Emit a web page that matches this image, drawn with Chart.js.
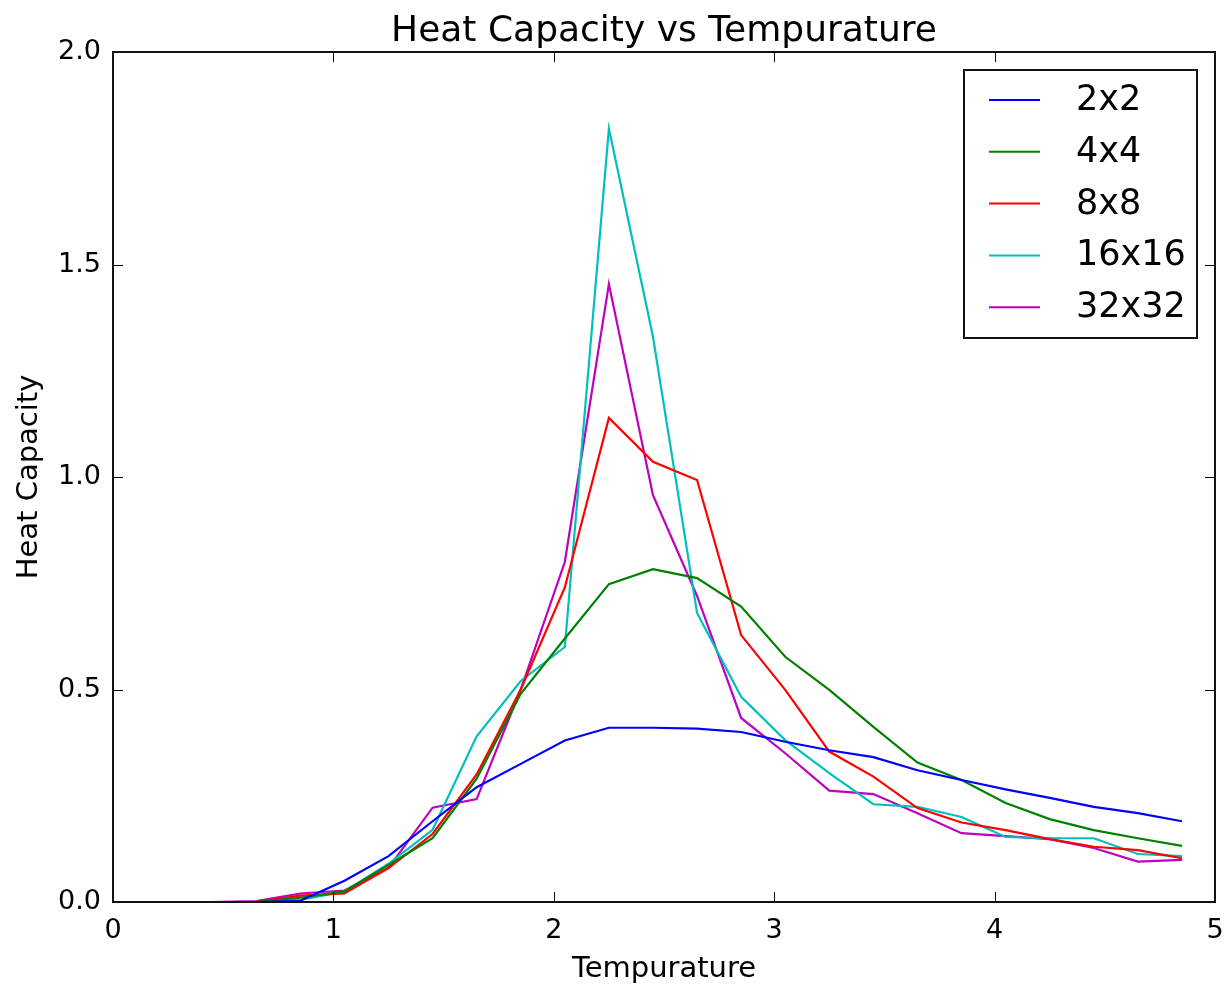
<!DOCTYPE html>
<html>
<head>
<meta charset="utf-8">
<script src="https://cdn.jsdelivr.net/npm/chart.js@4.4.0/dist/chart.umd.min.js"></script>
<style>
  body { margin: 0; background: #fff; }
  #wrap { width: 1226px; height: 987px; }
</style>
</head>
<body>
<div id="wrap"><canvas id="chart" width="1226" height="987"></canvas></div>
<script>
// temperatures sampled in the simulation
const temps = [0.25, 0.45, 0.65, 0.85, 1.05, 1.25, 1.45, 1.65, 1.85, 2.05, 2.25, 2.45,
               2.65, 2.85, 3.05, 3.25, 3.45, 3.65, 3.85, 4.05, 4.25, 4.45, 4.65, 4.85];

// heat capacity per lattice size
const c2x2   = [0, 0, 0, 0.003, 0.05, 0.108, 0.19, 0.27, 0.325, 0.38, 0.41, 0.41,
                0.408, 0.40, 0.377, 0.357, 0.341, 0.31, 0.287, 0.265, 0.245, 0.224, 0.209, 0.19];
const c4x4   = [0, 0, 0, 0.01, 0.025, 0.087, 0.15, 0.29, 0.49, 0.62, 0.748, 0.783,
                0.762, 0.695, 0.577, 0.499, 0.412, 0.328, 0.287, 0.233, 0.195, 0.169, 0.15, 0.132];
const c8x8   = [0, 0, 0, 0.015, 0.02, 0.08, 0.16, 0.30, 0.50, 0.74, 1.139, 1.036,
                0.993, 0.628, 0.499, 0.354, 0.295, 0.221, 0.187, 0.169, 0.148, 0.13, 0.122, 0.103];
const c16x16 = [0, 0, 0, 0.005, 0.025, 0.09, 0.17, 0.39, 0.52, 0.60, 1.82, 1.33,
                0.68, 0.483, 0.381, 0.303, 0.23, 0.224, 0.2, 0.153, 0.15, 0.15, 0.113, 0.108];
const c32x32 = [0, 0, 0.002, 0.02, 0.027, 0.08, 0.222, 0.242, 0.50, 0.80, 1.454, 0.957,
                0.72, 0.433, 0.35, 0.262, 0.254, 0.209, 0.162, 0.155, 0.148, 0.127, 0.095, 0.099];

const labels = ["2x2", "4x4", "8x8", "16x16", "32x32"];
const colors = ["#0000ff", "#008000", "#ff0000", "#00bfbf", "#bf00bf"];
const series = [c2x2, c4x4, c8x8, c16x16, c32x32];

const xTicks = [0, 1, 2, 3, 4, 5];
const yTicks = [0, 0.5, 1.0, 1.5, 2.0];

const FONT = "'DejaVu Sans', sans-serif";

// matplotlib-ish frame, inward ticks, title and legend
const mplLook = {
  id: "mplLook",
  afterDraw(chart) {
    const ctx = chart.ctx;
    const a = chart.chartArea;
    const xs = chart.scales.x, ys = chart.scales.y;
    ctx.save();

    // inward ticks
    ctx.strokeStyle = "#000";
    ctx.lineWidth = 1;
    const tl = 10;
    xTicks.forEach(v => {
      const px = Math.round(xs.getPixelForValue(v)) + 0.5;
      ctx.beginPath();
      ctx.moveTo(px, a.bottom); ctx.lineTo(px, a.bottom - tl);
      ctx.moveTo(px, a.top); ctx.lineTo(px, a.top + tl);
      ctx.stroke();
    });
    yTicks.forEach(v => {
      const py = Math.round(ys.getPixelForValue(v)) + 0.5;
      ctx.beginPath();
      ctx.moveTo(a.left, py); ctx.lineTo(a.left + tl, py);
      ctx.moveTo(a.right, py); ctx.lineTo(a.right - tl, py);
      ctx.stroke();
    });

    // frame
    ctx.lineWidth = 2;
    ctx.strokeStyle = "#111";
    ctx.strokeRect(a.left, a.top, a.right - a.left, a.bottom - a.top);

    // title
    ctx.fillStyle = "#000";
    ctx.font = "36px " + FONT;
    ctx.textAlign = "center";
    ctx.textBaseline = "alphabetic";
    ctx.fillText("Heat Capacity vs Tempurature", (a.left + a.right) / 2, 41);

    // legend box
    const bx = a.right - 251, by = a.top + 18, bw = 233, bh = 268;
    ctx.fillStyle = "#fff";
    ctx.fillRect(bx, by, bw, bh);
    ctx.lineWidth = 2;
    ctx.strokeStyle = "#111";
    ctx.strokeRect(bx, by, bw, bh);
    ctx.font = "35px " + FONT;
    ctx.textAlign = "left";
    ctx.textBaseline = "middle";
    labels.forEach((lab, i) => {
      const y = by + 30 + i * 51.8;
      ctx.strokeStyle = colors[i];
      ctx.lineWidth = 2;
      ctx.beginPath();
      ctx.moveTo(bx + 25, y); ctx.lineTo(bx + 76, y);
      ctx.stroke();
      ctx.fillStyle = "#000";
      ctx.fillText(lab, bx + 112, y + 1);
    });
    ctx.restore();
  }
};

new Chart(document.getElementById("chart"), {
  type: "line",
  data: {
    datasets: series.map((s, i) => ({
      label: labels[i],
      data: temps.map((t, j) => ({ x: t, y: s[j] })),
      borderColor: colors[i],
      backgroundColor: colors[i],
      borderWidth: 2.2,
      pointRadius: 0,
      tension: 0,
      fill: false
    }))
  },
  options: {
    responsive: false,
    animation: false,
    layout: { padding: { top: 52, right: 11, left: 0, bottom: 0 } },
    plugins: { legend: { display: false }, title: { display: false }, tooltip: { enabled: false } },
    scales: {
      x: {
        type: "linear", min: 0, max: 5,
        afterBuildTicks: s => { s.ticks = xTicks.map(v => ({ value: v })); },
        afterFit: s => { s.height = 85; s.paddingLeft = 0; s.paddingRight = 0; },
        grid: { display: false, drawTicks: false },
        border: { display: false },
        ticks: { color: "#000", font: { family: FONT, size: 27 }, padding: 13, maxRotation: 0 },
        title: { display: true, text: "Tempurature", color: "#000", font: { family: FONT, size: 29 }, padding: { top: 0, bottom: 0 } }
      },
      y: {
        min: 0, max: 2,
        afterBuildTicks: s => { s.ticks = yTicks.map(v => ({ value: v })); },
        afterFit: s => { s.width = 113; s.paddingTop = 0; s.paddingBottom = 0; },
        grid: { display: false, drawTicks: false },
        border: { display: false },
        ticks: { color: "#000", font: { family: FONT, size: 27 }, padding: 12, callback: v => v.toFixed(1) },
        title: { display: true, text: "Heat Capacity", color: "#000", font: { family: FONT, size: 29 }, padding: { top: 12, bottom: 0 } }
      }
    }
  },
  plugins: [mplLook]
});
</script>
</body>
</html>
